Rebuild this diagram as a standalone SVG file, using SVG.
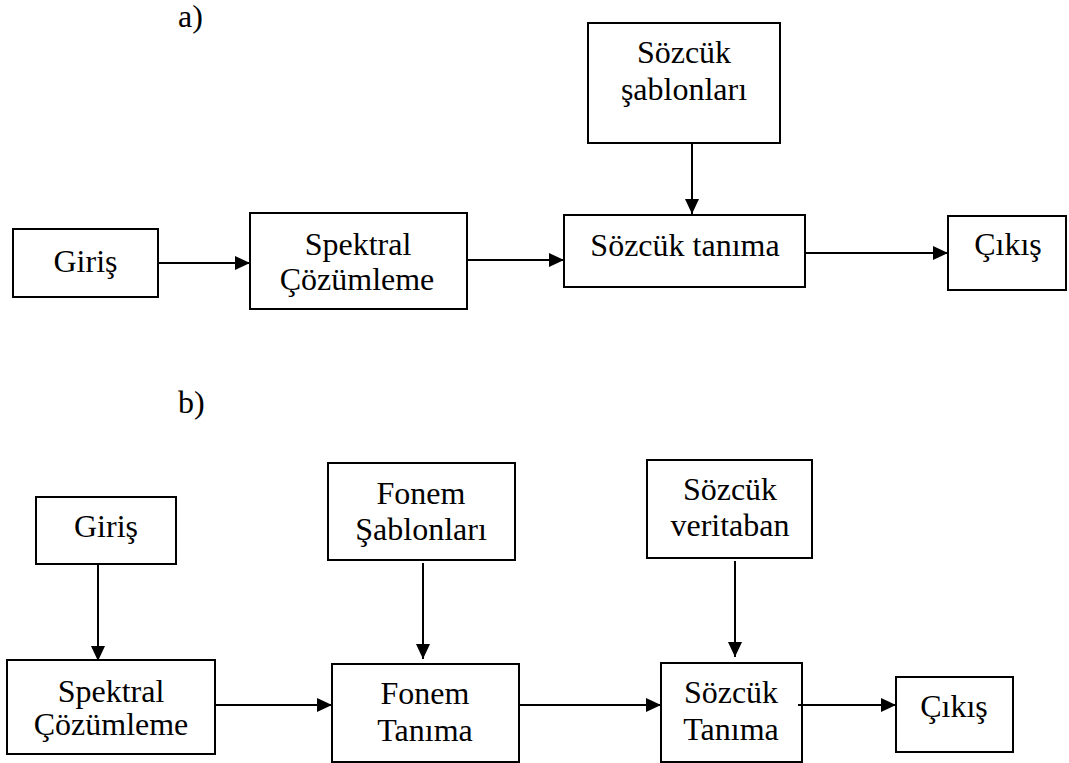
<svg xmlns="http://www.w3.org/2000/svg" width="1069" height="763" viewBox="0 0 1069 763">
  <style>
    .box { fill: #fff; stroke: #000; stroke-width: 2; }
    .lbl { font-family: "Liberation Serif", "Times New Roman", serif; font-size: 32px; fill: #000; text-anchor: middle; }
    .cap { font-family: "Liberation Serif", "Times New Roman", serif; font-size: 32px; fill: #000; }
    .wire { stroke: #000; stroke-width: 2; fill: none; marker-end: url(#arrow); }
  </style>
  <defs>
    <marker id="arrow" markerUnits="userSpaceOnUse" markerWidth="16" markerHeight="16" viewBox="0 0 16 16" refX="15" refY="8" orient="auto">
      <path d="M0,1 L15,8 L0,15 Z" fill="#000"/>
    </marker>
  </defs>
  <rect width="1069" height="763" fill="#fff"/>

  <!-- section captions -->
  <text class="cap" x="178" y="27">a)</text>
  <text class="cap" x="178" y="413">b)</text>

  <!-- (a) pipeline -->
  <g id="a-giris">
    <rect class="box" x="13" y="229" width="145" height="68"/>
    <text class="lbl" x="85.5" y="272">Giriş</text>
  </g>
  <g id="a-spektral">
    <rect class="box" x="250" y="213" width="217" height="96"/>
    <text class="lbl" x="358" y="255">Spektral</text>
    <text class="lbl" x="357" y="290">Çözümleme</text>
  </g>
  <g id="a-sablonlar">
    <rect class="box" x="588" y="23" width="192" height="120"/>
    <text class="lbl" x="684" y="63">Sözcük</text>
    <text class="lbl" x="684" y="100">şablonları</text>
  </g>
  <g id="a-tanima">
    <rect class="box" x="564" y="215" width="241" height="72"/>
    <text class="lbl" x="685" y="256">Sözcük tanıma</text>
  </g>
  <g id="a-cikis">
    <rect class="box" x="948" y="216" width="118" height="74"/>
    <text class="lbl" x="1008" y="255">Çıkış</text>
  </g>

  <!-- (b) pipeline -->
  <g id="b-giris">
    <rect class="box" x="36" y="497" width="140" height="67"/>
    <text class="lbl" x="106" y="537">Giriş</text>
  </g>
  <g id="b-spektral">
    <rect class="box" x="7" y="660" width="208" height="94"/>
    <text class="lbl" x="111" y="702">Spektral</text>
    <text class="lbl" x="111" y="735">Çözümleme</text>
  </g>
  <g id="b-fonem-sablon">
    <rect class="box" x="328" y="463" width="187" height="97"/>
    <text class="lbl" x="421" y="504">Fonem</text>
    <text class="lbl" x="421" y="540">Şablonları</text>
  </g>
  <g id="b-fonem-tanima">
    <rect class="box" x="332" y="664" width="187" height="98"/>
    <text class="lbl" x="425" y="704">Fonem</text>
    <text class="lbl" x="425" y="741">Tanıma</text>
  </g>
  <g id="b-veritaban">
    <rect class="box" x="647" y="460" width="165" height="98"/>
    <text class="lbl" x="730" y="500">Sözcük</text>
    <text class="lbl" x="730" y="536">veritaban</text>
  </g>
  <g id="b-sozcuk-tanima">
    <rect class="box" x="661" y="663" width="141" height="99"/>
    <text class="lbl" x="731" y="703">Sözcük</text>
    <text class="lbl" x="731" y="740">Tanıma</text>
  </g>
  <g id="b-cikis">
    <rect class="box" x="896" y="677" width="117" height="75"/>
    <text class="lbl" x="954" y="717">Çıkış</text>
  </g>

  <!-- connectors -->
  <g id="connectors">
    <line class="wire" x1="157" y1="263" x2="250" y2="263"/>
    <line class="wire" x1="467" y1="260" x2="564" y2="260"/>
    <line class="wire" x1="692" y1="143" x2="692" y2="214"/>
    <line class="wire" x1="805" y1="253" x2="948" y2="253"/>

    <line class="wire" x1="98" y1="564" x2="98" y2="661"/>
    <line class="wire" x1="215" y1="705" x2="332" y2="705"/>
    <line class="wire" x1="423" y1="563" x2="423" y2="659"/>
    <line class="wire" x1="519" y1="705" x2="661" y2="705"/>
    <line class="wire" x1="735" y1="561" x2="735" y2="657"/>
    <line class="wire" x1="798" y1="705" x2="896" y2="705"/>
  </g>
</svg>
